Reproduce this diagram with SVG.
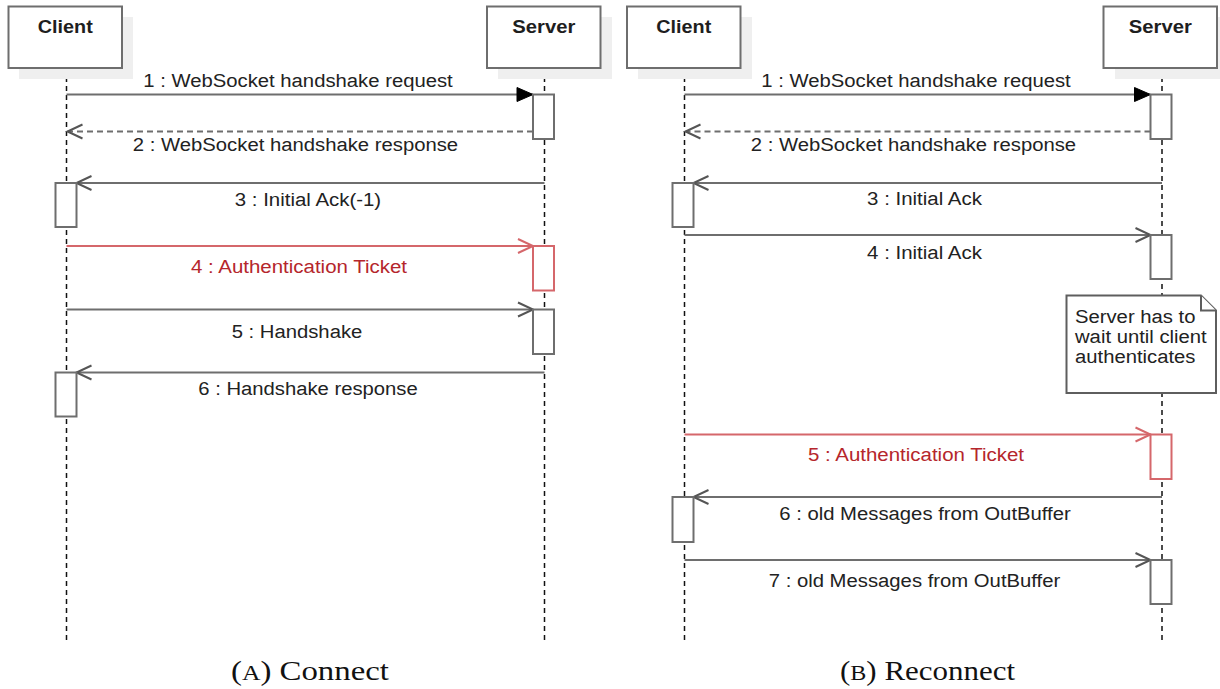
<svg xmlns="http://www.w3.org/2000/svg" width="1220" height="689" viewBox="0 0 1220 689">
<style>
  .hdr{fill:#fff;stroke:#6e6e6e;stroke-width:2}
  .shadow{fill:#efefef;stroke:none}
  .hdrtxt{font-family:"Liberation Sans",Arial,sans-serif;font-size:18px;font-weight:bold;fill:#1e1e1e;text-anchor:middle}
  .life{stroke:#111;stroke-width:1.5;stroke-dasharray:5 4;fill:none}
  .msg{stroke:#6e6e6e;stroke-width:2;fill:none}
  .ret{stroke:#6e6e6e;stroke-width:2;fill:none;stroke-dasharray:6 4}
  .red{stroke:#d5676b;stroke-width:2;fill:none}
  .act{fill:#fff;stroke:#6e6e6e;stroke-width:2}
  .actred{fill:#fff;stroke:#d5676b;stroke-width:2}
  .lbl{font-family:"Liberation Sans",Arial,sans-serif;font-size:18px;fill:#222;text-anchor:middle}
  .lblred{font-family:"Liberation Sans",Arial,sans-serif;font-size:18px;fill:#b5262c;text-anchor:middle}
  .note{fill:#fff;stroke:#5e5e5e;stroke-width:2}
  .notetxt{font-family:"Liberation Sans",Arial,sans-serif;font-size:18px;fill:#222}
  .cap{font-family:"Liberation Serif","Times New Roman",serif;font-size:27px;fill:#111}
</style>
<defs>
  <marker id="filled" markerUnits="userSpaceOnUse" orient="auto" overflow="visible" markerWidth="1" markerHeight="1" refX="0" refY="0">
    <path d="M-16,-7 L0,0 L-16,7 Z" fill="#000" stroke="#000" stroke-width="1"/>
  </marker>
  <marker id="open" markerUnits="userSpaceOnUse" orient="auto" overflow="visible" markerWidth="1" markerHeight="1" refX="0" refY="0">
    <path d="M-15,-7 L0,0 L-15,7" fill="none" stroke="#555" stroke-width="2"/>
  </marker>
  <marker id="openred" markerUnits="userSpaceOnUse" orient="auto" overflow="visible" markerWidth="1" markerHeight="1" refX="0" refY="0">
    <path d="M-15,-7 L0,0 L-15,7" fill="none" stroke="#d5676b" stroke-width="2"/>
  </marker>
</defs>
<rect width="1220" height="689" fill="#fff"/>

<!-- lifelines -->
<g id="lifelines">
  <path class="life" d="M66.5,68 V640"/>
  <path class="life" d="M544.5,68 V640"/>
  <path class="life" d="M684.5,68 V640"/>
  <path class="life" d="M1162,68 V640"/>
</g>

<!-- participants -->
<g id="a-client">
  <rect class="shadow" x="19" y="17" width="114" height="62"/>
  <rect class="hdr" x="8.5" y="6.5" width="113.5" height="61.5"/>
  <text class="hdrtxt" x="65.3" y="33" textLength="55" lengthAdjust="spacingAndGlyphs">Client</text>
</g>
<g id="a-server">
  <rect class="shadow" x="498" y="17" width="114" height="62"/>
  <rect class="hdr" x="487" y="6.5" width="113.5" height="61.5"/>
  <text class="hdrtxt" x="543.8" y="33" textLength="63" lengthAdjust="spacingAndGlyphs">Server</text>
</g>
<g id="b-client">
  <rect class="shadow" x="638" y="17" width="114" height="62"/>
  <rect class="hdr" x="627" y="6.5" width="113.5" height="61.5"/>
  <text class="hdrtxt" x="683.8" y="33" textLength="55" lengthAdjust="spacingAndGlyphs">Client</text>
</g>
<g id="b-server">
  <rect class="shadow" x="1115" y="17" width="105" height="62"/>
  <rect class="hdr" x="1103.5" y="6.5" width="113.5" height="61.5"/>
  <text class="hdrtxt" x="1160.3" y="33" textLength="63" lengthAdjust="spacingAndGlyphs">Server</text>
</g>

<!-- connectors -->
<g id="connectors">
  <path class="msg" d="M66.5,94.5 H533" marker-end="url(#filled)"/>
  <path class="ret" d="M533,131.5 H67.5" marker-end="url(#open)"/>
  <path class="msg" d="M544.5,183 H76.5" marker-end="url(#open)"/>
  <path class="red" d="M66.5,246 H533" marker-end="url(#openred)"/>
  <path class="msg" d="M66.5,309.5 H533" marker-end="url(#open)"/>
  <path class="msg" d="M544.5,372.5 H76.5" marker-end="url(#open)"/>

  <path class="msg" d="M684.5,94.5 H1150.5" marker-end="url(#filled)"/>
  <path class="ret" d="M1150.5,131.5 H685.5" marker-end="url(#open)"/>
  <path class="msg" d="M1162,183 H693.5" marker-end="url(#open)"/>
  <path class="msg" d="M684.5,235 H1150.5" marker-end="url(#open)"/>
  <path class="red" d="M684.5,434.5 H1150.5" marker-end="url(#openred)"/>
  <path class="msg" d="M1162,497 H693.5" marker-end="url(#open)"/>
  <path class="msg" d="M684.5,560 H1150.5" marker-end="url(#open)"/>
</g>

<!-- activations -->
<g id="a-activations">
  <rect class="act" x="533" y="94.5" width="21" height="44.5"/>
  <rect class="act" x="55.5" y="183" width="21" height="44"/>
  <rect class="actred" x="533" y="246" width="21" height="44.5"/>
  <rect class="act" x="533" y="309.5" width="21" height="44.5"/>
  <rect class="act" x="55.5" y="372.5" width="21" height="44"/>
</g>
<g id="b-activations">
  <rect class="act" x="1150.5" y="94.5" width="21" height="44.5"/>
  <rect class="act" x="672.5" y="183" width="21" height="44"/>
  <rect class="act" x="1150.5" y="235" width="21" height="44"/>
  <rect class="actred" x="1150.5" y="434.5" width="21" height="44.5"/>
  <rect class="act" x="672.5" y="497" width="21" height="45"/>
  <rect class="act" x="1150.5" y="560" width="21" height="44"/>
</g>

<!-- message labels -->
<g id="a-labels">
  <text class="lbl" x="298" y="86.7" textLength="309.5" lengthAdjust="spacingAndGlyphs">1 : WebSocket handshake request</text>
  <text class="lbl" x="295.5" y="150.7" textLength="325.3" lengthAdjust="spacingAndGlyphs">2 : WebSocket handshake response</text>
  <text class="lbl" x="308" y="206" textLength="146.3" lengthAdjust="spacingAndGlyphs">3 : Initial Ack(-1)</text>
  <text class="lblred" x="299" y="273" textLength="216.1" lengthAdjust="spacingAndGlyphs">4 : Authentication Ticket</text>
  <text class="lbl" x="297" y="338" textLength="130.6" lengthAdjust="spacingAndGlyphs">5 : Handshake</text>
  <text class="lbl" x="308" y="395" textLength="219.5" lengthAdjust="spacingAndGlyphs">6 : Handshake response</text>
</g>
<g id="b-labels">
  <text class="lbl" x="916" y="86.7" textLength="309.5" lengthAdjust="spacingAndGlyphs">1 : WebSocket handshake request</text>
  <text class="lbl" x="913.5" y="150.7" textLength="325.3" lengthAdjust="spacingAndGlyphs">2 : WebSocket handshake response</text>
  <text class="lbl" x="924.5" y="205" textLength="114.8" lengthAdjust="spacingAndGlyphs">3 : Initial Ack</text>
  <text class="lbl" x="924.5" y="259" textLength="114.8" lengthAdjust="spacingAndGlyphs">4 : Initial Ack</text>
  <text class="lblred" x="916" y="461" textLength="216.1" lengthAdjust="spacingAndGlyphs">5 : Authentication Ticket</text>
  <text class="lbl" x="925" y="520" textLength="291.5" lengthAdjust="spacingAndGlyphs">6 : old Messages from OutBuffer</text>
  <text class="lbl" x="914.5" y="586.7" textLength="291.5" lengthAdjust="spacingAndGlyphs">7 : old Messages from OutBuffer</text>
</g>

<!-- note -->
<g id="b-note">
  <path class="note" d="M1066.5,295.5 H1201 L1216,310.5 V393 H1066.5 Z"/>
  <path class="note" d="M1201,295.5 V310.5 H1216" fill="none"/>
  <text class="notetxt" x="1075" y="323.3" textLength="120.4" lengthAdjust="spacingAndGlyphs">Server has to</text>
  <text class="notetxt" x="1075" y="343.3" textLength="131.7" lengthAdjust="spacingAndGlyphs">wait until client</text>
  <text class="notetxt" x="1075" y="363.3" textLength="120.4" lengthAdjust="spacingAndGlyphs">authenticates</text>
</g>

<!-- captions -->
<g id="captions">
  <text class="cap" x="231" y="680" textLength="158" lengthAdjust="spacingAndGlyphs">(<tspan font-size="21px">A</tspan>) Connect</text>
  <text class="cap" x="840" y="680" textLength="175" lengthAdjust="spacingAndGlyphs">(<tspan font-size="21px">B</tspan>) Reconnect</text>
</g>
</svg>
